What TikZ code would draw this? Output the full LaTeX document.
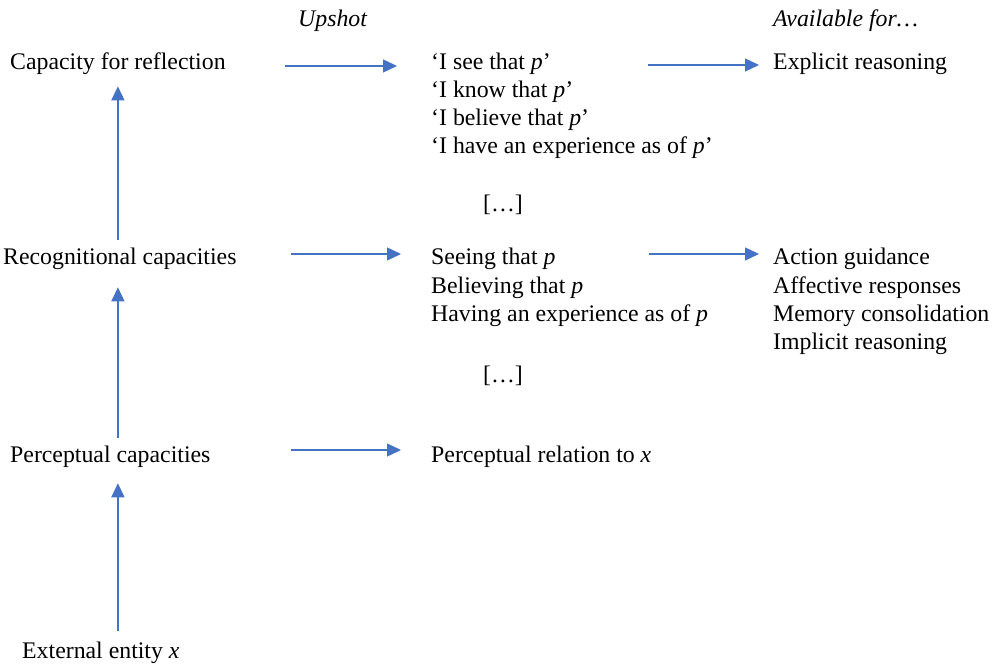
\documentclass[tikz,border=0pt]{standalone}
\usepackage{fontspec}
\setmainfont{Liberation Serif}
\usetikzlibrary{arrows.meta}
\definecolor{arrblue}{HTML}{4472C4}
\begin{document}
\begin{tikzpicture}[x=1pt,y=-1pt,
  txt/.style={anchor=base west, inner sep=0pt, font=\fontsize{23.8}{28}\selectfont},
  arr/.style={draw=arrblue, line width=1.4pt, -{Triangle[length=14pt,width=13pt]}}]
\useasboundingbox (0,0) rectangle (998,668);
% headings
\node[txt] (upshot) at (298,27) {\textit{Upshot}};
\node[txt] (avail) at (773,27) {\textit{Available for…}};
% row 1
\node[txt] (cap) at (10,70) {Capacity for reflection};
\node[txt] (see1) at (431,70) {‘I see that \textit{p}’};
\node[txt] (see2) at (431,98) {‘I know that \textit{p}’};
\node[txt] (see3) at (431,126) {‘I believe that \textit{p}’};
\node[txt] (see4) at (431,154) {‘I have an experience as of \textit{p}’};
\node[txt] (dots1) at (483,212) {[…]};
\node[txt] (expl) at (773,70) {Explicit reasoning};
% row 2
\node[txt] (rec) at (3,265) {Recognitional capacities};
\node[txt] (seeing) at (431,265) {Seeing that \textit{p}};
\node[txt] (believing) at (431,293) {Believing that \textit{p}};
\node[txt] (having) at (431,321) {Having an experience as of \textit{p}};
\node[txt] (dots2) at (483,382) {[…]};
\node[txt] (act) at (773,265) {Action guidance};
\node[txt] (aff) at (773,293) {Affective responses};
\node[txt] (mem) at (773,321) {Memory consolidation};
\node[txt] (impl) at (773,349) {Implicit reasoning};
% row 3
\node[txt] (perc) at (10,462) {Perceptual capacities};
\node[txt] (prel) at (431,462) {Perceptual relation to \textit{x}};
% row 4
\node[txt] (ext) at (22,658) {External entity \textit{x}};
% horizontal arrows
\draw[arr, shorten <=59.5pt, shorten >=34pt] ([yshift=4pt]cap.base east) -- ([yshift=4pt]see1.base west);
\draw[arr, shorten <=97pt, shorten >=14pt] ([yshift=5pt]see1.base east) -- ([yshift=5pt]expl.base west);
\draw[arr, shorten <=54pt, shorten >=30pt] ([yshift=11pt]rec.base east) -- ([yshift=11pt]seeing.base west);
\draw[arr, shorten <=93pt, shorten >=14pt] ([yshift=11pt]seeing.base east) -- ([yshift=11pt]act.base west);
\draw[arr, shorten <=80pt, shorten >=30pt] ([yshift=12pt]perc.base east) -- ([yshift=12pt]prel.base west);
% vertical arrows
\draw[arr, shorten <=8.7pt, shorten >=11pt] (rec.north -| cap.south) -- (cap.south);
\draw[arr, shorten <=7pt, shorten >=17pt] (perc.north -| cap.south) -- (rec.south -| cap.south);
\draw[arr, shorten <=10pt, shorten >=16pt] (ext.north -| cap.south) -- (perc.south -| cap.south);
\end{tikzpicture}
\end{document}
